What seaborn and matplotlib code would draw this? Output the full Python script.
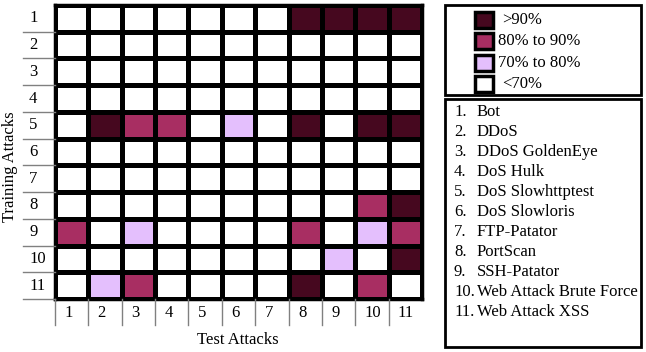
import matplotlib
matplotlib.use("Agg")
import matplotlib.pyplot as plt
import matplotlib.transforms as mtransforms
from matplotlib.colors import ListedColormap, BoundaryNorm
from matplotlib.patches import Rectangle
from matplotlib.lines import Line2D
import numpy as np
import pandas as pd
import seaborn as sns

attacks = ["Bot", "DDoS", "DDoS GoldenEye", "DoS Hulk", "DoS Slowhttptest",
           "DoS Slowloris", "FTP-Patator", "PortScan", "SSH-Patator",
           "Web Attack Brute Force", "Web Attack XSS"]
attack_ids = [str(i + 1) for i in range(len(attacks))]

bin_labels = ["<70%", "70% to 80%", "80% to 90%", ">90%"]
bin_colors = ["#ffffff", "#e4bffd", "#a82e62", "#46081f"]

# accuracy bin per training attack (row) / test attack (column)
# 0: <70%, 1: 70-80%, 2: 80-90%, 3: >90%
levels = [
    [0, 0, 0, 0, 0, 0, 0, 3, 3, 3, 3],
    [0, 0, 0, 0, 0, 0, 0, 0, 0, 0, 0],
    [0, 0, 0, 0, 0, 0, 0, 0, 0, 0, 0],
    [0, 0, 0, 0, 0, 0, 0, 0, 0, 0, 0],
    [0, 3, 2, 2, 0, 1, 0, 3, 0, 3, 3],
    [0, 0, 0, 0, 0, 0, 0, 0, 0, 0, 0],
    [0, 0, 0, 0, 0, 0, 0, 0, 0, 0, 0],
    [0, 0, 0, 0, 0, 0, 0, 0, 0, 2, 3],
    [2, 0, 1, 0, 0, 0, 0, 2, 0, 1, 2],
    [0, 0, 0, 0, 0, 0, 0, 0, 1, 0, 3],
    [0, 1, 2, 0, 0, 0, 0, 3, 0, 2, 0],
]

plt.rcParams['font.family'] = 'Liberation Serif'
FS = 12
W, H = 646, 352


def fx(x):
    return x / W


def fy(y):
    return 1 - y / H


fig = plt.figure(figsize=(W / 100, H / 100), dpi=100)
ax = fig.add_axes([fx(55), fy(299), (422 - 55) / W, (299 - 5) / H])

df = pd.DataFrame(levels, index=attack_ids, columns=attack_ids)
cmap = ListedColormap(bin_colors)
norm = BoundaryNorm([-0.5, 0.5, 1.5, 2.5, 3.5], cmap.N)
sns.heatmap(df, ax=ax, cmap=cmap, norm=norm, cbar=False,
            linewidths=2.5, linecolor='black',
            xticklabels=False, yticklabels=False)
for s in ax.spines.values():
    s.set_visible(True)
    s.set_linewidth(2.5)
ax.set_xlabel("")
ax.set_ylabel("")
ax.tick_params(length=0)

# row labels with separators on the left
tr_y = mtransforms.blended_transform_factory(fig.transFigure, ax.transData)
for i, lab in enumerate(df.index):
    ax.text(fx(29), i + 0.5, lab, transform=tr_y, ha='left', va='center',
            fontsize=FS, clip_on=False)
for k in range(1, len(df.index) + 1):
    fig.add_artist(Line2D([fx(23), fx(55)], [k, k], transform=tr_y,
                          color='#808080', lw=1))

# column labels with separators below
tr_x = mtransforms.blended_transform_factory(ax.transData, fig.transFigure)
for j, lab in enumerate(df.columns):
    ax.text(j + 0.28, fy(313), lab, transform=tr_x, ha='left', va='center',
            fontsize=FS, clip_on=False)
for j in range(len(df.columns)):
    fig.add_artist(Line2D([j, j], [fy(299), fy(325)], transform=tr_x,
                          color='#808080', lw=1))

fig.text(fx(10), fy(167), "Training Attacks", rotation=90, ha='center',
         va='center', fontsize=FS)
fig.text(fx(238), fy(340), "Test Attacks", ha='center', va='center',
         fontsize=FS)

# colour legend box
fig.add_artist(Rectangle((fx(445), fy(95)), (641 - 445) / W, (95 - 5) / H,
                         transform=fig.transFigure, fill=False,
                         edgecolor='black', lw=2))
sw_y = [20, 41, 63, 84]
txt_x = [502, 498, 498, 502]
for k, idx in enumerate([3, 2, 1, 0]):
    fig.add_artist(Rectangle((fx(475), fy(sw_y[k] + 8)), 18 / W, 16 / H,
                             transform=fig.transFigure,
                             facecolor=bin_colors[idx], edgecolor='black',
                             lw=2.5))
    fig.text(fx(txt_x[k]), fy(sw_y[k]), bin_labels[idx], ha='left',
             va='center', fontsize=FS)

# attack name legend box
fig.add_artist(Rectangle((fx(445), fy(347)), (641 - 445) / W, (347 - 99) / H,
                         transform=fig.transFigure, fill=False,
                         edgecolor='black', lw=2))
for i, name in enumerate(attacks):
    y = 112 + 20 * i
    fig.text(fx(454), fy(y), attack_ids[i] + ".", ha='left', va='center',
             fontsize=FS)
    fig.text(fx(477), fy(y), name, ha='left', va='center', fontsize=FS)

fig.savefig("out.png", dpi=100)
